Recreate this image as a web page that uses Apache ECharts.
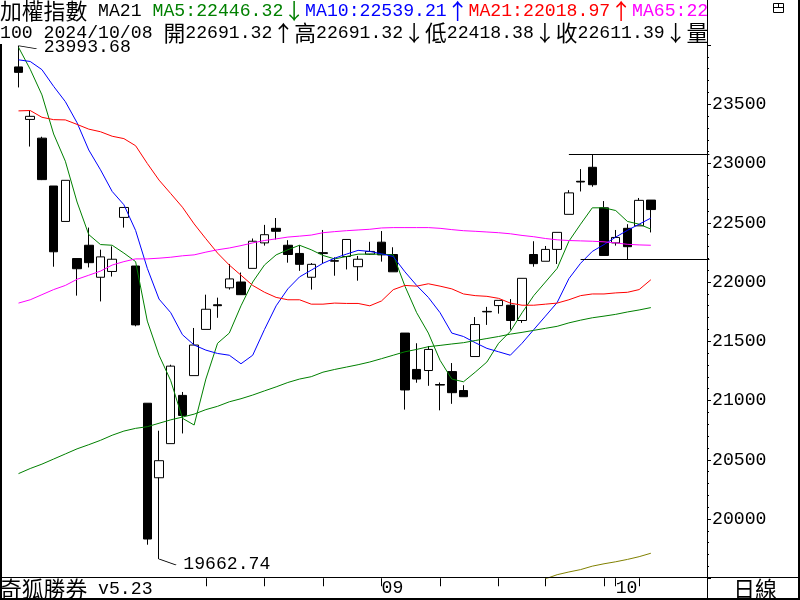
<!DOCTYPE html>
<html><head><meta charset="utf-8">
<script src="https://cdn.jsdelivr.net/npm/echarts@6/dist/echarts.min.js"></script>
<style>html,body{margin:0;padding:0;background:#fff}#c{width:800px;height:600px}</style>
</head><body><div id="c"></div>
<script>
// ---------------- data ----------------
const dates = ['2024/07/17','2024/07/18','2024/07/19','2024/07/22','2024/07/23','2024/07/26','2024/07/29','2024/07/30','2024/07/31',
 '2024/08/01','2024/08/02','2024/08/05','2024/08/06','2024/08/07','2024/08/08','2024/08/09','2024/08/12','2024/08/13','2024/08/14','2024/08/15','2024/08/16',
 '2024/08/19','2024/08/20','2024/08/21','2024/08/22','2024/08/23','2024/08/26','2024/08/27','2024/08/28','2024/08/29','2024/08/30',
 '2024/09/02','2024/09/03','2024/09/04','2024/09/05','2024/09/06','2024/09/09','2024/09/10','2024/09/11','2024/09/12','2024/09/13',
 '2024/09/16','2024/09/18','2024/09/19','2024/09/20','2024/09/23','2024/09/24','2024/09/25','2024/09/26','2024/09/27','2024/09/30',
 '2024/10/01','2024/10/04','2024/10/07','2024/10/08'];
const opens  = [23815,23372,23214,22810,22511,22198,22310,22040,22089,22545,22135,20977,20348,20636,21043,21210,21600,21808,21951,22000,22115,
 22330,22453,22310,22241,22040,22240,22180,22215,22129,22235,22336,22232,21569,21262,21253,21135,21244,21084,21371,21752,
 21801,21804,21675,22232,22175,22275,22571,22850,22968,22626,22330,22453,22474,22691.32];
const closes = [23769,23398,22864,22255,22858,22112,22163,22212,22192,22629,21638,19831,20492,21290,20874,21468,21770,21800,22026,21893,22344,
 22399,22428,22232,22149,22149,22248,22176,22359,22192,22258,22229,22086,21089,21181,21431,21130,21066,21032,21641,21748,
 21845,21675,22031,22155,22275,22419,22752,22844,22821,22224,22376,22298,22689,22611.39];
const lows   = [23642,23143,22860,22129,22511,21885,22123,21836,22046,22459,21626,19783,19662.74,20636,20722,21210,21600,21698,21936,21893,22115,
 22307,22359,22163,22094,21936,22158,22053,22106,22011,22230,22172,22086,20923,21150,21124,20917,20972,21032,21371,21638,
 21733,21598,21655,22129,22175,22152,22571,22764,22804,22224,22307,22189,22474,22418.38];
const highs  = [23993.68,23450,23226,22810,22858,22198,22459,22273,22301,22629,22135,20977,20745,21302,21072,21612,21893,21868,22152,22080,22367,
 22482,22540,22353,22310,22160,22439,22208,22360,22220,22339,22430,22293,21569,21483,21460,21152,21316,21129,21704,21790,
 21845,21856,22031,22344,22304,22419,22775,22953,23077,22683,22439,22488,22709,22691.32];
const ma5   = [23981,23795,23579,23249,23019,22675,22400,22316,22310,22244,22172,21670,21382,21167,20850,20793,21181,21483,21569,21799,22000,
 22143,22229,22272,22310,22272,22224,22195,22215,22235,22235,22235,22229,21965,21741,21569,21339,21181,21158,21239,21325,
 21483,21583,21740,21885,22000,22115,22344,22488,22626,22626,22603,22511,22488,22446.32];
const ma10  = [23875,23861,23792,23651,23522,23344,23114,22947,22764,22652,22435,22115,21856,21741,21555,21468,21425,21397,21382,21310,21382,
 21598,21799,21942,22043,22100,22158,22201,22235,22267,22258,22238,22215,22086,21971,21870,21741,21569,21540,21488,21440,
 21411,21382,21483,21598,21712,21827,22028,22158,22258,22316,22379,22436,22488,22539.21];
const ma21  = [23444,23447,23390,23370,23368,23330,23290,23268,23230,23210,23150,23000,22860,22746,22631,22490,22365,22244,22143,22057,21971,
 21914,21870,21850,21850,21813,21813,21822,21819,21819,21799,21840,21935,21971,21965,21985,21965,21942,21899,21885,21879,
 21862,21822,21804,21804,21813,21822,21850,21885,21899,21899,21908,21913,21936,22018.97];
const ma65  = [21822,21850,21893,21936,21971,22023,22057,22092,22143,22172,22195,22195,22201,22209,22221,22229,22252,22272,22287,22307,22330,
 22350,22364,22379,22387,22396,22416,22425,22433,22439,22445,22456,22459,22459,22459,22459,22453,22442,22433,22428,22422,
 22416,22407,22393,22382,22367,22356,22350,22347,22344,22339,22330,22318,22313,22310];
const ma120 = [20383,20426,20463,20506,20549,20592,20627,20664,20707,20742,20765,20779,20808,20837,20860,20885,20923,20951,20989,21015,21046,
 21081,21115,21152,21181,21201,21239,21262,21282,21302,21325,21353,21382,21411,21431,21454,21465,21477,21488,21506,21523,
 21540,21560,21575,21592,21609,21626,21655,21678,21698,21712,21727,21747,21764,21784];
const ma240 = [null,null,null,null,null,null,null,null,null,null,null,null,null,null,null,null,null,null,null,null,null,
 null,null,null,null,null,null,null,null,null,null,null,null,null,null,null,null,null,null,null,null,
 null,null,null,null,19495,19530,19553,19573,19602,19622,19639,19659,19682,19711];
const yAxisMin = 19500, yAxisMax = 24000, yAxisStep = 500;
const monthLabels = ['09','10'];
const rangeHighFrom = 47, rangeLowFrom = 48;   // reference lines start (candle index)
const headerCount = '100';
const titleText = '加權指數';
const footerText = ['奇狐勝券', ' v5.23'];
const periodText = '日線';

// ---------------- layout ----------------
const N = dates.length;
const PAD = 5;
const cats = dates.concat(Array.from({length: PAD}, (_, i) => '#' + i));
const band = 11.71;
const gridLeft = 12.65;
const gridW = band * cats.length;
const axisX = 707;

const last = N - 1;
const f2 = v => v.toFixed(2);
const arr = (a, b) => (a >= b ? '↑' : '↓');
const CJK = '"Noto Sans CJK TC","Noto Sans CJK SC",sans-serif';
const MONO = '"Liberation Mono","DejaVu Sans Mono",monospace';
const FS_C = 21.8, FS_M = 18.17;
function rs(font, size, fill) { return {fontFamily: font, fontSize: size, fill: fill, lineHeight: 22, verticalAlign: 'middle'}; }
const rich = {
  c: rs(CJK, FS_C, '#000'), k: rs(MONO, FS_M, '#000'), ka: rs(CJK, FS_C, '#000'),
  g: rs(MONO, FS_M, '#008000'), ga: rs(CJK, FS_C, '#008000'),
  b: rs(MONO, FS_M, '#0000ff'), ba: rs(CJK, FS_C, '#0000ff'),
  r: rs(MONO, FS_M, '#ff0000'), ra: rs(CJK, FS_C, '#ff0000'),
  p: rs(MONO, FS_M, '#ff00ff')
};
const line1 = `{c|${titleText}}{k| MA21 }{g|MA5:${f2(ma5[last])}}{ga|${arr(ma5[last], ma5[last-1])}}` +
  `{b|MA10:${f2(ma10[last])}}{ba|${arr(ma10[last], ma10[last-1])}}` +
  `{r|MA21:${f2(ma21[last])}}{ra|${arr(ma21[last], ma21[last-1])}}{p|MA65:22}`;
const line2 = `{k|${headerCount} ${dates[last]} }{c|開}{k|${f2(opens[last])}}{ka|${arr(opens[last], closes[last-1])}}` +
  `{c|高}{k|${f2(highs[last])}}{ka|${arr(highs[last], highs[last-1])}}` +
  `{c|低}{k|${f2(lows[last])}}{ka|${arr(lows[last], lows[last-1])}}` +
  `{c|收}{k|${f2(closes[last])}}{ka|${arr(closes[last], closes[last-1])}}{c|量}`;

const dow = d => new Date(d).getDay();
const isWeekStart = i => i > 0 && i < N && dow(dates[i]) <= dow(dates[i-1]);
const isMonthStart = i => i > 0 && i < N && dates[i].slice(5,7) !== dates[i-1].slice(5,7);

const hiIdx = highs.indexOf(Math.max(...highs));
const loIdx = lows.indexOf(Math.min(...lows));
const lastHigh = Math.max(...highs.slice(rangeHighFrom));
const lastLow = Math.min(...lows.slice(rangeLowFrom));

const lineS = (name, data, color) => ({
  name, type: 'line', data, showSymbol: false, symbol: 'none', smooth: false,
  lineStyle: {color, width: 1}, silent: true, z: 3, clip: true
});

const chart = echarts.init(document.getElementById('c'), null, {renderer: 'canvas'});
chart.setOption({
  animation: false,
  backgroundColor: '#fff',
  grid: {left: gridLeft, top: 45, width: gridW, height: 533.25, containLabel: false, outerBoundsMode: 'none'},
  xAxis: {
    type: 'category', data: cats, boundaryGap: true,
    axisLine: {show: false},
    axisTick: {show: true, alignWithLabel: true, length: 8, lineStyle: {color: '#000', width: 1},
      interval: (i) => isWeekStart(i) || isMonthStart(i)},
    axisLabel: {show: true, align: 'left', margin: 1, color: '#000', fontFamily: MONO, fontSize: FS_M,
      interval: (i) => isMonthStart(i) && monthLabels.indexOf(dates[i].slice(5,7)) >= 0,
      formatter: (v) => v.slice(5,7)},
    splitLine: {show: false}
  },
  yAxis: {
    type: 'value', position: 'right', min: yAxisMin, max: yAxisMax, interval: yAxisStep,
    offset: axisX - (gridLeft + gridW),
    axisLine: {show: true, lineStyle: {color: '#000', width: 1}},
    axisTick: {show: true, length: 4, lineStyle: {color: '#000'}},
    minorTick: {show: true, splitNumber: 5, length: 2, lineStyle: {color: '#000'}},
    axisLabel: {color: '#000', fontFamily: MONO, fontSize: FS_M, margin: 5, showMinLabel: false, showMaxLabel: false,
      formatter: (v) => String(v)},
    splitLine: {show: false}
  },
  series: [
    {
      name: 'K', type: 'candlestick', barWidth: 9, z: 2,
      data: dates.map((d, i) => [opens[i], closes[i], lows[i], highs[i]]),
      itemStyle: {color: '#fff', color0: '#000', borderColor: '#000', borderColor0: '#000', borderColorDoji: '#000', borderWidth: 1},
      markPoint: {
        silent: true, animation: false,
        data: [
          {coord: [hiIdx, highs[hiIdx]], value: highs[hiIdx], symbol: 'path://M0,0L18,3', symbolSize: [18, 3], symbolOffset: [9, 1.5],
            symbolKeepAspect: false, itemStyle: {color: 'none', borderColor: '#000', borderWidth: 1},
            label: {show: true, position: 'right', distance: 1, color: '#000', fontFamily: MONO, fontSize: FS_M, formatter: f2(highs[hiIdx])}},
          {coord: [loIdx, lows[loIdx]], value: lows[loIdx], symbol: 'path://M0,0L17,6', symbolSize: [17, 6], symbolOffset: [8.5, 3],
            symbolKeepAspect: false, itemStyle: {color: 'none', borderColor: '#000', borderWidth: 1},
            label: {show: true, position: 'right', distance: 3, offset: [0, 2], color: '#000', fontFamily: MONO, fontSize: FS_M, formatter: f2(lows[loIdx])}}
        ]
      },
      markLine: {
        silent: true, symbol: ['none', 'none'], animation: false,
        label: {show: false},
        lineStyle: {color: '#000', width: 1, type: 'solid'},
        data: [
          [{coord: [rangeHighFrom, lastHigh]}, {coord: [cats.length - 1, lastHigh]}],
          [{coord: [rangeLowFrom, lastLow]}, {coord: [cats.length - 1, lastLow]}]
        ]
      }
    },
    lineS('MA5', ma5, '#008000'),
    lineS('MA10', ma10, '#0000ff'),
    lineS('MA21', ma21, '#ff0000'),
    lineS('MA65', ma65, '#ff00ff'),
    lineS('MA120', ma120, '#008000'),
    lineS('MA240', ma240, '#808000')
  ],
  graphic: [
    {type: 'text', x: 0, y: 0, z: 50, style: {text: line1, rich: rich, verticalAlign: 'top'}},
    {type: 'text', x: 0, y: 22, z: 50, style: {text: line2, rich: rich, verticalAlign: 'top'}},
    {type: 'text', x: 0, y: 578, z: 60, style: {text: `{c|${footerText[0]}}{k|${footerText[1]}}`, rich: rich, verticalAlign: 'top', backgroundColor: '#fff'}},
    {type: 'text', x: 755, y: 589, z: 60, style: {text: periodText, fontFamily: CJK, fontSize: FS_C, fill: '#000', align: 'center', verticalAlign: 'middle'}},
    // frame
    {type: 'line', z: 70, shape: {x1: 707.5, y1: 0, x2: 707.5, y2: 600}, style: {stroke: '#000', lineWidth: 1}},
    {type: 'line', z: 70, shape: {x1: 0, y1: 577.5, x2: 800, y2: 577.5}, style: {stroke: '#000', lineWidth: 1}},
    {type: 'line', z: 70, shape: {x1: 1, y1: 44, x2: 1, y2: 600}, style: {stroke: '#000', lineWidth: 2}},
    {type: 'line', z: 70, shape: {x1: 0, y1: 599, x2: 800, y2: 599}, style: {stroke: '#000', lineWidth: 2}},
    {type: 'line', z: 70, shape: {x1: 799, y1: 0, x2: 799, y2: 600}, style: {stroke: '#000', lineWidth: 2}},
    // window icon
    {type: 'rect', z: 70, shape: {x: 773.5, y: 3.5, width: 10, height: 9}, style: {fill: 'none', stroke: '#000', lineWidth: 1}},
    {type: 'line', z: 70, shape: {x1: 773.5, y1: 7.5, x2: 783.5, y2: 7.5}, style: {stroke: '#000', lineWidth: 1}},
    {type: 'line', z: 70, shape: {x1: 778.5, y1: 3.5, x2: 778.5, y2: 7.5}, style: {stroke: '#000', lineWidth: 1}}
  ]
});
</script></body></html>
